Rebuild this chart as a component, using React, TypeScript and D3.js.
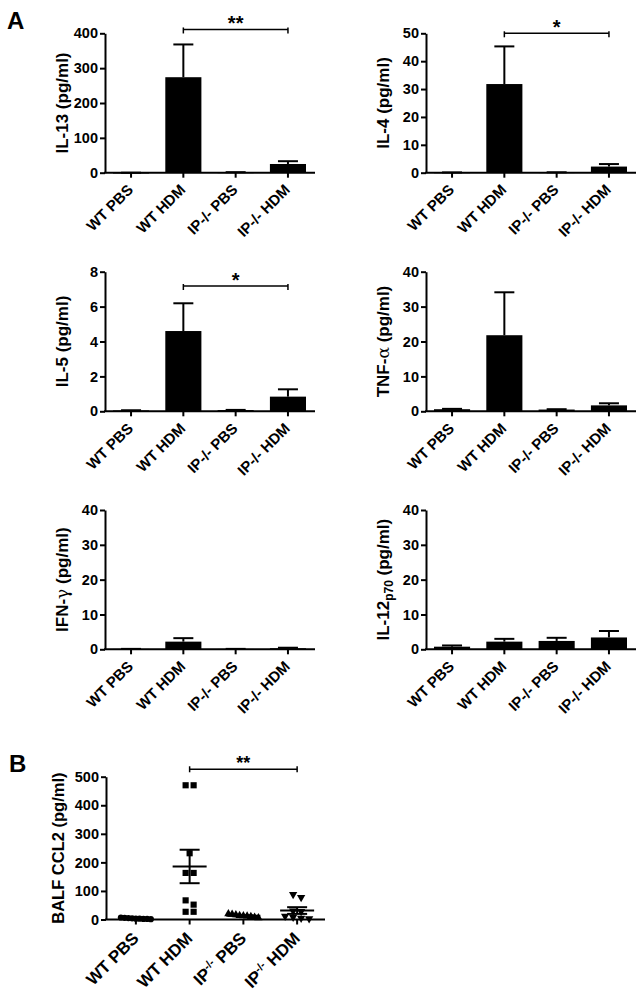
import React, { useEffect, useRef } from "react";
import * as d3 from "d3";

// ---------- DATA ----------
const groupsA = ["WT PBS", "WT HDM", "IP-/- PBS", "IP-/- HDM"];

const il13Mean = [0, 274, 1, 25];
const il13Err = [0, 94, 0.5, 8];
const il4Mean = [0.1, 31.8, 0.15, 2.2];
const il4Err = [0, 13.5, 0, 0.9];
const il5Mean = [0.05, 4.6, 0.07, 0.84];
const il5Err = [0.01, 1.59, 0.01, 0.42];
const tnfMean = [0.6, 21.8, 0.5, 1.7];
const tnfErr = [0.1, 12.3, 0.1, 0.6];
const ifnMean = [0.1, 2.2, 0.1, 0.3];
const ifnErr = [0.02, 1.0, 0.02, 0.15];
const il12Mean = [0.75, 2.2, 2.4, 3.4];
const il12Err = [0.35, 0.8, 0.9, 1.85];

const ticksIL13 = [0, 100, 200, 300, 400];
const ticksIL4 = [0, 10, 20, 30, 40, 50];
const ticksIL5 = [0, 2, 4, 6, 8];
const ticks40 = [0, 10, 20, 30, 40];

const groupsB = ["WT PBS", "WT HDM", "IP PBS", "IP HDM"];
const ccl2WtPbs = [7, 6, 5, 4, 3, 3, 2, 2, 1];
const ccl2WtHdm = [470, 470, 232, 163, 163, 67, 52, 27, 27];
const ccl2IpPbs = [20, 18, 16, 14, 13, 12, 10, 8, 6];
const ccl2IpHdm = [88, 77, 30, 28, 12, 8, 5, 3];
const ticksB = [0, 100, 200, 300, 400, 500];

const FONT = "'Liberation Sans', Arial, Helvetica, sans-serif";

type BarCfg = {
  title: (t: any) => void;
  mean: number[];
  err: number[];
  max: number;
  ticks: number[];
  ax: number;
  top: number;
  bottom: number;
  sig?: { value: number; text: string };
};

export default function App() {
  const ref = useRef<SVGSVGElement>(null);

  useEffect(() => {
    const svg = d3.select(ref.current);
    svg.selectAll("*").remove();

    const plainTitle = (s: string) => (t: any) => t.text(s);

    const panels: BarCfg[] = [
      { title: plainTitle("IL-13 (pg/ml)"), mean: il13Mean, err: il13Err, max: 400, ticks: ticksIL13, ax: 105, top: 33.3, bottom: 172.7, sig: { value: 411, text: "**" } },
      { title: plainTitle("IL-4 (pg/ml)"), mean: il4Mean, err: il4Err, max: 50, ticks: ticksIL4, ax: 426, top: 33.3, bottom: 172.7, sig: { value: 50, text: "*" } },
      { title: plainTitle("IL-5 (pg/ml)"), mean: il5Mean, err: il5Err, max: 8, ticks: ticksIL5, ax: 105, top: 271.7, bottom: 411.3, sig: { value: 7.18, text: "*" } },
      {
        title: (t: any) => {
          t.append("tspan").text("TNF-");
          t.append("tspan").attr("font-weight", "normal").attr("font-family", "'DejaVu Serif', serif").text("α");
          t.append("tspan").text(" (pg/ml)");
        },
        mean: tnfMean, err: tnfErr, max: 40, ticks: ticks40, ax: 426, top: 271.7, bottom: 411.3,
      },
      {
        title: (t: any) => {
          t.append("tspan").text("IFN-");
          t.append("tspan").attr("font-weight", "normal").attr("font-family", "'DejaVu Serif', serif").text("γ");
          t.append("tspan").text(" (pg/ml)");
        },
        mean: ifnMean, err: ifnErr, max: 40, ticks: ticks40, ax: 105, top: 510, bottom: 649.3,
      },
      {
        title: (t: any) => {
          t.append("tspan").text("IL-12");
          t.append("tspan").attr("font-size", "12px").attr("dy", "4").text("p70");
          t.append("tspan").attr("dy", "-4").text(" (pg/ml)");
        },
        mean: il12Mean, err: il12Err, max: 40, ticks: ticks40, ax: 426, top: 510, bottom: 649.3,
      },
    ];

    const styleAxis = (g: any) => {
      g.selectAll("line").attr("stroke", "#000").attr("stroke-width", 2);
      g.selectAll("path").attr("stroke", "#000").attr("stroke-width", 2);
    };

    // Panel letters
    svg.append("text").attr("x", 7).attr("y", 29).attr("font-family", FONT).attr("font-weight", "bold").attr("font-size", 24).text("A");
    svg.append("text").attr("x", 9).attr("y", 772).attr("font-family", FONT).attr("font-weight", "bold").attr("font-size", 24).text("B");

    panels.forEach((p) => {
      const g = svg.append("g");
      const x = d3.scaleBand().domain(groupsA).range([p.ax, p.ax + 209]).paddingInner(0.31).paddingOuter(0.153);
      const y = d3.scaleLinear().domain([0, p.max]).range([p.bottom, p.top]);
      const bw = x.bandwidth();

      // bars
      g.selectAll("rect.bar").data(groupsA).enter().append("rect")
        .attr("x", (d) => x(d)!)
        .attr("y", (d, i) => y(p.mean[i]))
        .attr("width", bw)
        .attr("height", (d, i) => Math.max(0.8, y(0) - y(p.mean[i])))
        .attr("fill", "#000");

      // error bars (upper)
      groupsA.forEach((d, i) => {
        const cx = x(d)! + bw / 2;
        const y0 = y(p.mean[i]);
        const y1 = y(p.mean[i] + p.err[i]);
        g.append("line").attr("x1", cx).attr("x2", cx).attr("y1", y0).attr("y2", y1).attr("stroke", "#000").attr("stroke-width", 2);
        g.append("line").attr("x1", cx - 10).attr("x2", cx + 10).attr("y1", y1).attr("y2", y1).attr("stroke", "#000").attr("stroke-width", 2);
      });

      // y axis
      const ya = g.append("g").attr("transform", `translate(${p.ax},0)`)
        .call(d3.axisLeft(y).tickValues(p.ticks).tickSize(5).tickSizeOuter(0).tickPadding(2));
      styleAxis(ya);
      ya.selectAll("text").attr("font-family", FONT).attr("font-weight", "bold").attr("font-size", 14.5).attr("fill", "#000");

      // x axis
      const xa = g.append("g").attr("transform", `translate(0,${p.bottom})`)
        .call(d3.axisBottom(x).tickSize(5).tickSizeOuter(0));
      xa.select(".domain").remove();
      styleAxis(xa);
      xa.selectAll("text")
        .attr("y", 0).attr("dy", 0)
        .attr("text-anchor", "end")
        .attr("transform", "translate(3,18) rotate(-45)")
        .attr("font-family", FONT).attr("font-weight", "bold").attr("font-size", 15).attr("fill", "#000");
      g.append("line").attr("x1", p.ax - 1).attr("x2", p.ax + 210).attr("y1", p.bottom).attr("y2", p.bottom).attr("stroke", "#000").attr("stroke-width", 2);

      // title
      const cy = (p.top + p.bottom) / 2;
      const tx = p.ax - 37;
      const t = g.append("text")
        .attr("transform", `translate(${tx},${cy}) rotate(-90)`)
        .attr("text-anchor", "middle")
        .attr("font-family", FONT).attr("font-weight", "bold").attr("font-size", 17).attr("fill", "#000");
      p.title(t);

      // significance
      if (p.sig) {
        const x1 = x(groupsA[1])! + bw / 2;
        const x2 = x(groupsA[3])! + bw / 2;
        const sy = y(p.sig.value);
        g.append("line").attr("x1", x1).attr("x2", x2).attr("y1", sy).attr("y2", sy).attr("stroke", "#000").attr("stroke-width", 1.5);
        [x1, x2].forEach((xx) => g.append("line").attr("x1", xx).attr("x2", xx).attr("y1", sy - 2).attr("y2", sy + 4).attr("stroke", "#000").attr("stroke-width", 1.5));
        g.append("text").attr("x", (x1 + x2) / 2).attr("y", sy + 1).attr("text-anchor", "middle")
          .attr("font-family", FONT).attr("font-weight", "bold").attr("font-size", 20).text(p.sig.text);
      }
    });

    // ---------- Panel B ----------
    {
      const ax = 106, top = 776.7, bottom = 919.5;
      const g = svg.append("g");
      const x = d3.scaleBand().domain(groupsB).range([109, 324]);
      const y = d3.scaleLinear().domain([0, 500]).range([bottom, top]);
      const bw = x.bandwidth();
      const sets = [ccl2WtPbs, ccl2WtHdm, ccl2IpPbs, ccl2IpHdm];
      const shapes = [
        { type: d3.symbolCircle, size: 30, rot: 0 },
        { type: d3.symbolSquare, size: 38, rot: 0 },
        { type: d3.symbolTriangle, size: 30, rot: 0 },
        { type: d3.symbolTriangle, size: 30, rot: 180 },
      ];

      sets.forEach((vals, gi) => {
        const cx = x(groupsB[gi])! + bw / 2;
        const sorted = [...vals].sort((a, b) => b - a);
        const rows: number[][] = [];
        sorted.forEach((v) => {
          const last = rows[rows.length - 1];
          if (last && Math.abs(y(last[0]) - y(v)) < 5) last.push(v);
          else rows.push([v]);
        });
        const sym = d3.symbol().type(shapes[gi].type).size(shapes[gi].size);
        rows.forEach((row) => {
          const k = row.length;
          const sp = k > 1 ? Math.min(8, 30 / (k - 1)) : 0;
          row.forEach((v, j) => {
            const px = cx + (j - (k - 1) / 2) * sp;
            g.append("path").attr("d", sym()!)
              .attr("transform", `translate(${px},${y(v)}) rotate(${shapes[gi].rot})`)
              .attr("fill", "#000");
          });
        });
        const m = d3.mean(vals)!;
        const sem = d3.deviation(vals)! / Math.sqrt(vals.length);
        const ln = (x1: number, x2: number, y1: number, y2: number) =>
          g.append("line").attr("x1", x1).attr("x2", x2).attr("y1", y1).attr("y2", y2).attr("stroke", "#000").attr("stroke-width", 2);
        ln(cx - 17, cx + 17, y(m), y(m));
        ln(cx, cx, y(m - sem), y(m + sem));
        ln(cx - 10, cx + 10, y(m + sem), y(m + sem));
        ln(cx - 10, cx + 10, y(m - sem), y(m - sem));
      });

      const ya = g.append("g").attr("transform", `translate(${ax},0)`)
        .call(d3.axisLeft(y).tickValues(ticksB).tickSize(5).tickSizeOuter(0).tickPadding(2));
      styleAxis(ya);
      ya.selectAll("text").attr("font-family", FONT).attr("font-weight", "bold").attr("font-size", 14.5).attr("fill", "#000");

      const xa = g.append("g").attr("transform", `translate(0,${bottom})`)
        .call(d3.axisBottom(x).tickSize(5).tickSizeOuter(0));
      xa.select(".domain").remove();
      styleAxis(xa);
      xa.selectAll("text").each(function (d: any) {
        const t = d3.select(this);
        t.text(null).attr("y", 0).attr("dy", 0).attr("text-anchor", "end")
          .attr("transform", "translate(4,20) rotate(-45)")
          .attr("font-family", FONT).attr("font-weight", "bold").attr("font-size", 17).attr("fill", "#000");
        if (d.startsWith("IP")) {
          t.append("tspan").text("IP");
          t.append("tspan").attr("dy", -6).attr("font-size", 11).text("-/-");
          t.append("tspan").attr("dy", 6).text(" " + d.slice(3));
        } else {
          t.text(d);
        }
      });
      g.append("line").attr("x1", ax - 1).attr("x2", 325).attr("y1", bottom).attr("y2", bottom).attr("stroke", "#000").attr("stroke-width", 2);

      g.append("text")
        .attr("transform", `translate(${ax - 42},${(top + bottom) / 2}) rotate(-90)`)
        .attr("text-anchor", "middle")
        .attr("font-family", FONT).attr("font-weight", "bold").attr("font-size", 16.5).attr("fill", "#000")
        .text("BALF CCL2 (pg/ml)");

      const x1 = x(groupsB[1])! + bw / 2;
      const x2 = x(groupsB[3])! + bw / 2;
      const sy = y(526);
      g.append("line").attr("x1", x1).attr("x2", x2).attr("y1", sy).attr("y2", sy).attr("stroke", "#000").attr("stroke-width", 1.5);
      [x1, x2].forEach((xx) => g.append("line").attr("x1", xx).attr("x2", xx).attr("y1", sy - 3).attr("y2", sy + 3).attr("stroke", "#000").attr("stroke-width", 1.5));
      g.append("text").attr("x", (x1 + x2) / 2).attr("y", sy).attr("text-anchor", "middle")
        .attr("font-family", FONT).attr("font-weight", "bold").attr("font-size", 18).text("**");
    }
  }, []);

  return (
    <svg
      ref={ref}
      width={644}
      height={1001}
      style={{ position: "absolute", left: 0, top: 0, background: "#fff" }}
    />
  );
}
